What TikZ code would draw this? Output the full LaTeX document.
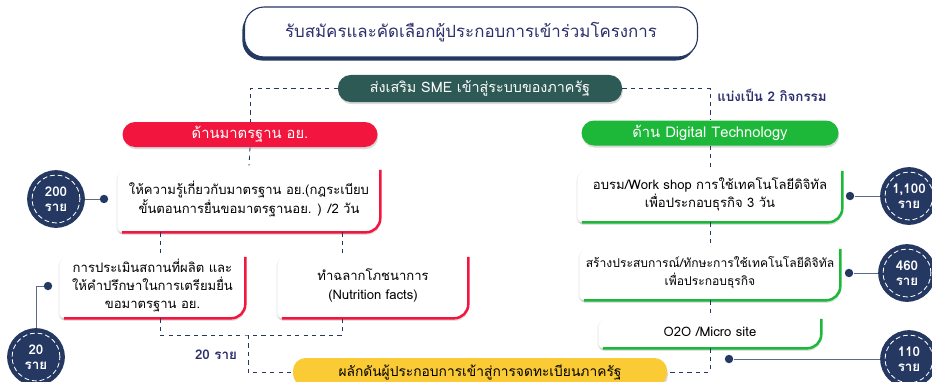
\documentclass[tikz,border=0pt]{standalone}
\usepackage{fontspec}
\setmainfont{Loma}[Script=Thai]
\usetikzlibrary{positioning,calc,backgrounds,shadows}
\definecolor{navy}{HTML}{243862}
\definecolor{slate}{HTML}{2E5A56}
\definecolor{crimson}{HTML}{F2163E}
\definecolor{leaf}{HTML}{1DB83A}
\definecolor{sun}{HTML}{FBCB35}
\definecolor{ink}{HTML}{2B2F6B}
\definecolor{steel}{HTML}{5C6B8C}
% outline of a card: big round top left and bottom right
\newcommand\cardpath[1]{([yshift=3pt]#1.south west) -- ([yshift=-10pt]#1.north west)
  arc[start angle=180,end angle=90,radius=10pt] -- ([xshift=-3pt]#1.north east)
  arc[start angle=90,end angle=0,radius=3pt] -- ([yshift=10pt]#1.south east)
  arc[start angle=0,end angle=-90,radius=10pt] -- ([xshift=3pt]#1.south west)
  arc[start angle=270,end angle=180,radius=3pt] -- cycle}

\begin{document}
\begin{tikzpicture}[x=0.025cm,y=-0.025cm,
   sz/.style 2 args={minimum width=#1*0.025cm,minimum height=#2*0.025cm},
   bar/.style={fill=#1,rounded corners=9pt,text=white,inner sep=0pt,font=\fontsize{10.2}{12}\selectfont,
     drop shadow={opacity=.3,shadow xshift=.6pt,shadow yshift=-1.5pt}},
   card/.style={align=center,inner sep=0pt,font=\fontsize{9.3}{13}\selectfont},
   tally/.style={circle,fill=navy,minimum size=41pt,inner sep=0pt,text=white,align=center,
     font=\bfseries\fontsize{9.5}{11}\selectfont},
   pin/.style={circle,fill=navy,minimum size=6pt,inner sep=0pt},
   link/.style={navy,dashed,semithick},
   wire/.style={steel,semithick}]
  \useasboundingbox (0,0) rectangle (932,381);

  \node[fill=white,draw=navy,line width=.8pt,rounded corners=14pt,sz={453}{50},text=ink,
    font=\fontsize{12}{14}\selectfont,
    drop shadow={fill=navy,opacity=1,shadow xshift=-1.5pt,shadow yshift=-2.5pt}] (topic) at (471,32)
    {รับสมัครและคัดเลือกผู้ประกอบการเข้าร่วมโครงการ};
  \node[bar=slate,sz={284}{27}] (promo) at (480,88.5) {ส่งเสริม SME เข้าสู่ระบบของภาครัฐ};
  \node[text=ink,font=\bfseries\fontsize{9.5}{11}\selectfont] (split) at (772,95) {แบ่งเป็น 2 กิจกรรม};

  \node[bar=crimson,sz={255}{25},font=\fontsize{10.5}{12}\selectfont] (fda) at (250,134.5) {ด้านมาตรฐาน อย.};
  \node[bar=leaf,sz={257}{25},font=\fontsize{10.5}{12}\selectfont] (digi) at (710,133) {ด้าน Digital Technology};

  % left column
  \node[card,sz={262}{66}] (k1) at (249,199) {ให้ความรู้เกี่ยวกับมาตรฐาน อย.(กฎระเบียบ\\ขั้นตอนการยื่นขอมาตรฐานอย. ) /2 วัน};
  \node[card,sz={185}{65}] (k2) at (152.5,285.5) {การประเมินสถานที่ผลิต และ\\ให้คำปรึกษาในการเตรียมยื่น\\ขอมาตรฐาน อย.};
  \node[card,sz={190}{65}] (k3) at (373,285.5) {ทำฉลากโภชนาการ\\(Nutrition facts)};

  % right column
  \node[card,sz={264}{55}] (d1) at (710,194.5) {อบรม/Work shop การใช้เทคโนโลยีดิจิทัล\\เพื่อประกอบธุรกิจ 3 วัน};
  \node[card,sz={260}{55},font=\fontsize{8.6}{13}\selectfont] (d2) at (710,272.5) {สร้างประสบการณ์/ทักษะการใช้เทคโนโลยีดิจิทัล\\เพื่อประกอบธุรกิจ};
  \node[card,sz={222}{33}] (d3) at (710,331.5) {O2O /Micro site};

  \node[bar=sun,sz={374}{28},text=black,font=\fontsize{9.8}{12}\selectfont] (push) at (480,372) {ผลักดันผู้ประกอบการเข้าสู่การจดทะเบียนภาครัฐ};
  \node[text=ink,font=\bfseries\fontsize{9.5}{11}\selectfont] (n20) at (216,355) {20 ราย};

  % tallies
  \node[tally] (c200) at (56,199) {200\\ราย};
  \node[tally] (c20) at (36,357) {20\\ราย};
  \node[tally] (c1100) at (909,196) {1,100\\ราย};
  \node[tally] (c460) at (907,273) {460\\ราย};
  \node[tally] (c110) at (909,359) {110\\ราย};
  \foreach \t in {c200,c20,c1100,c460,c110}
    \draw[white,line width=.6pt,dash pattern=on 3.5pt off 2pt] (\t.center) circle[radius=17pt];

  \node[pin] (p200) at (104,199) {};
  \node[pin] (p20) at (48,286) {};
  \node[pin] (p1100) at (850,196) {};
  \node[pin] (p460) at (849,273) {};
  \node[pin] (p110) at (729,359) {};
  \draw[wire] (c200) -- (p200);
  \draw[wire] (c20.north) |- (p20);
  \draw[wire] (p1100) -- (c1100);
  \draw[wire] (p460) -- (c460);
  \draw[wire] (p110) -- (c110);

  % dashed flow
  \coordinate (xl) at (160,0);
  \coordinate (xr) at (342,0);
  \coordinate (xm) at (248,335);
  \draw[link] (promo.west) -| (fda.north);
  \draw[link] (promo.east) -| (digi.north);
  \draw[link] (fda.south) -- (k1.north);
  \draw[link] (k1.south -| xl) -- (k2.north -| xl);
  \draw[link] (k1.south -| xr) -- (k3.north -| xr);
  \draw[link] (k2.south -| xl) |- (xm) -| (k3.south -| xr);
  \draw[link] (xm) |- (push.west);
  \draw[link] (digi.south) -- (d1.north);
  \draw[link] (d1.south) -- (d2.north);
  \draw[link] (d2.south) -- (d3.north);
  \draw[link] (d3.south) |- (push.east);

  \begin{scope}[on background layer]
    \foreach \n/\col in {k1/crimson,k2/crimson,k3/crimson,d1/leaf,d2/leaf,d3/leaf}{
      \fill[black,opacity=.06,transform canvas={shift={(-1pt,-1pt)}}] \cardpath{\n};
      \fill[black,opacity=.12,transform canvas={shift={(.5pt,-1.8pt)}}] \cardpath{\n};
      \fill[white] \cardpath{\n};
      \draw[\col,line width=1.8pt] ([yshift=-3pt]\n.north east) -- ([yshift=10pt]\n.south east)
        arc[start angle=0,end angle=-90,radius=10pt] -- ([xshift=3pt]\n.south west);
    }
  \end{scope}
\end{tikzpicture}
\end{document}
